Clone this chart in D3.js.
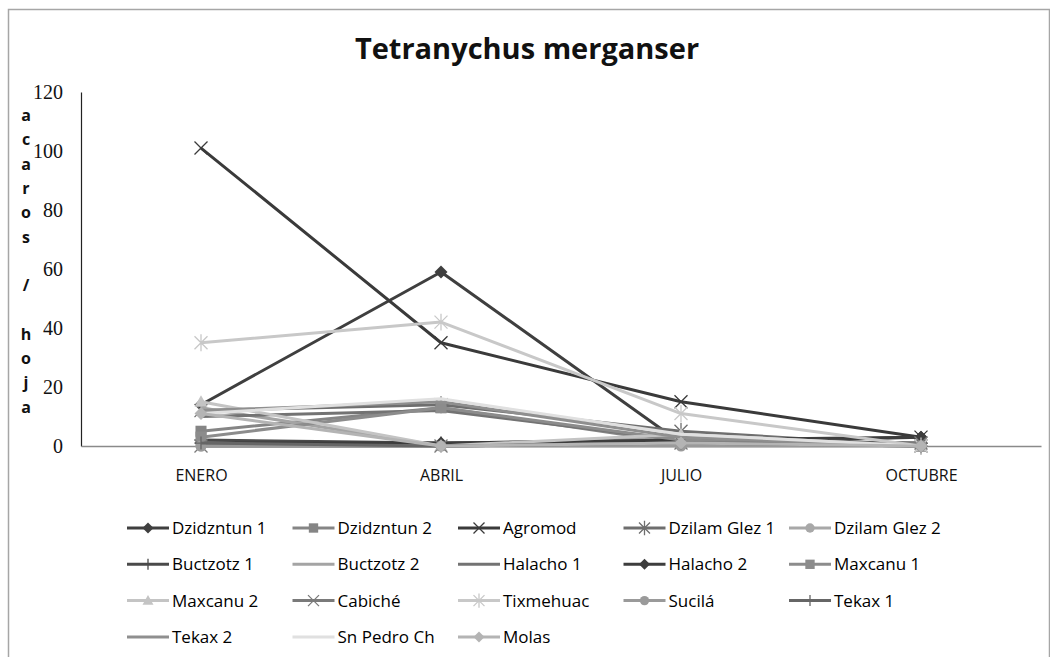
<!DOCTYPE html>
<html><head><meta charset="utf-8">
<script src="https://cdn.jsdelivr.net/npm/d3@7"></script>
<style>body{margin:0;background:#fff}svg{display:block}</style>
</head><body>
<svg id="c" width="1050" height="657"></svg>
<script>
const categories = ["ENERO","ABRIL","JULIO","OCTUBRE"];
const yTicks = [0,20,40,60,80,100,120];
const seriesNames = ["Dzidzntun 1","Dzidzntun 2","Agromod","Dzilam Glez 1","Dzilam Glez 2","Buctzotz 1","Buctzotz 2","Halacho 1","Halacho 2","Maxcanu 1","Maxcanu 2","Cabiché","Tixmehuac","Sucilá","Tekax 1","Tekax 2","Sn Pedro Ch","Molas"];
const dzidzntun1 = [14,59,1,3];
const dzidzntun2 = [5,13,1,0];
const agromod = [101,35,15,3];
const dzilamGlez1 = [12,14,5,0];
const dzilamGlez2 = [0,0,1,0];
const buctzotz1 = [2,1,2,1];
const buctzotz2 = [13,0,3,0];
const halacho1 = [10,12,2,0];
const halacho2 = [1,1,2,3];
const maxcanu1 = [3,13,2,0];
const maxcanu2 = [15,0,4,0];
const cabiche = [0,0,1,1];
const tixmehuac = [35,42,11,0];
const sucila = [0,0,0,0];
const tekax1 = [1,0,1,0];
const tekax2 = [12,15,3,0];
const snPedroCh = [11,16,4,0];
const molas = [11,0,1,0];
const seriesValues = [dzidzntun1,dzidzntun2,agromod,dzilamGlez1,dzilamGlez2,buctzotz1,buctzotz2,halacho1,halacho2,maxcanu1,maxcanu2,cabiche,tixmehuac,sucila,tekax1,tekax2,snPedroCh,molas];

const styles = [
  {c:"#3f3f3f", m:"diamond"},
  {c:"#858585", m:"square"},
  {c:"#3a3a3a", m:"x"},
  {c:"#6e6e6e", m:"star"},
  {c:"#a8a8a8", m:"circle"},
  {c:"#4a4a4a", m:"plus"},
  {c:"#a4a4a4", m:null},
  {c:"#737373", m:null},
  {c:"#3d3d3d", m:"diamond"},
  {c:"#8c8c8c", m:"square"},
  {c:"#c4c4c4", m:"triangle"},
  {c:"#7a7a7a", m:"x"},
  {c:"#c8c8c8", m:"star"},
  {c:"#9a9a9a", m:"circle"},
  {c:"#666666", m:"plus"},
  {c:"#8f8f8f", m:null},
  {c:"#e0e0e0", m:null},
  {c:"#b4b4b4", m:"diamond"}
];

const svg = d3.select("#c");
svg.append("rect").attr("x",8.5).attr("y",9.5).attr("width",1041).attr("height",660)
  .attr("fill","#fff").attr("stroke","#a6a6a6").attr("stroke-width",1.5);

const x = d3.scalePoint().domain(categories).range([81,1041]).padding(0.5);
const y = d3.scaleLinear().domain([0,120]).range([446,92]);

svg.append("text").attr("x",527).attr("y",59).attr("text-anchor","middle")
  .attr("font-family","'Open Sans',sans-serif").attr("font-weight","bold").attr("font-size",29)
  .attr("fill","#111").text("Tetranychus merganser");

// y axis
const ya = svg.append("g").attr("transform","translate(81,0)")
  .call(d3.axisLeft(y).tickValues(yTicks).tickSize(0).tickPadding(18).tickFormat(d3.format("d")));
ya.select(".domain").attr("stroke","#222").attr("stroke-width",1.2);
ya.selectAll("text").attr("font-family","'Liberation Serif',serif").attr("font-size",20).attr("fill","#111");

// x axis
const xa = svg.append("g").attr("transform","translate(0,446)")
  .call(d3.axisBottom(x).tickSize(0).tickPadding(24));
xa.select(".domain").attr("stroke","#8a8a8a").attr("stroke-width",1.5);
xa.selectAll("text").attr("font-family","'Open Sans',sans-serif").attr("font-size",16).attr("fill","#111");

// y axis title stacked letters
const yTitle = "acaros / hoja".split("");
svg.append("g").selectAll("text").data(yTitle).join("text")
  .attr("x",26).attr("y",(d,i)=>121+i*24.3).attr("text-anchor","middle")
  .attr("font-family","'Open Sans',sans-serif").attr("font-weight","bold").attr("font-size",16)
  .attr("fill","#111").text(d=>d);

function drawMarker(g, type, cx, cy, color, s){
  if(!type) return;
  if(type==="diamond"){
    g.append("path").attr("d",`M${cx},${cy-s}L${cx+s},${cy}L${cx},${cy+s}L${cx-s},${cy}Z`).attr("fill",color);
  } else if(type==="square"){
    g.append("rect").attr("x",cx-s*0.85).attr("y",cy-s*0.85).attr("width",s*1.7).attr("height",s*1.7).attr("fill",color);
  } else if(type==="circle"){
    g.append("circle").attr("cx",cx).attr("cy",cy).attr("r",s*0.85).attr("fill",color);
  } else if(type==="triangle"){
    g.append("path").attr("d",`M${cx},${cy-s}L${cx+s},${cy+s*0.75}L${cx-s},${cy+s*0.75}Z`).attr("fill",color);
  } else if(type==="x"){
    g.append("path").attr("d",`M${cx-s},${cy-s}L${cx+s},${cy+s}M${cx-s},${cy+s}L${cx+s},${cy-s}`).attr("stroke",color).attr("stroke-width",1.3);
  } else if(type==="star"){
    g.append("path").attr("d",`M${cx-s},${cy-s}L${cx+s},${cy+s}M${cx-s},${cy+s}L${cx+s},${cy-s}M${cx},${cy-s*1.3}L${cx},${cy+s*1.3}`).attr("stroke",color).attr("stroke-width",1.3);
  } else if(type==="plus"){
    g.append("path").attr("d",`M${cx-s},${cy}L${cx+s},${cy}M${cx},${cy-s}L${cx},${cy+s}`).attr("stroke",color).attr("stroke-width",1.3);
  }
}

const line = d3.line().x((d,i)=>x(categories[i])).y(d=>y(d));
const plot = svg.append("g");
seriesValues.forEach((vals,k)=>{
  const st = styles[k];
  const g = plot.append("g");
  g.append("path").datum(vals).attr("d",line).attr("fill","none")
    .attr("stroke",st.c).attr("stroke-width",3).attr("stroke-linejoin","round");
  vals.forEach((v,i)=>drawMarker(g, st.m, x(categories[i]), y(v), st.c, 6.5));
});

// legend
const leg = svg.append("g");
seriesNames.forEach((name,k)=>{
  const col = k%5, row = Math.floor(k/5);
  const lx = 127 + col*165.5, ly = 528 + row*36.3;
  const g = leg.append("g");
  g.append("line").attr("x1",lx).attr("x2",lx+42).attr("y1",ly).attr("y2",ly)
    .attr("stroke",styles[k].c).attr("stroke-width",3);
  drawMarker(g, styles[k].m, lx+21, ly, styles[k].c, 5.5);
  g.append("text").attr("x",lx+45).attr("y",ly).attr("dy","0.35em")
    .attr("font-family","'Open Sans',sans-serif").attr("font-size",17).attr("fill","#000").text(name);
});
</script>
</body></html>
